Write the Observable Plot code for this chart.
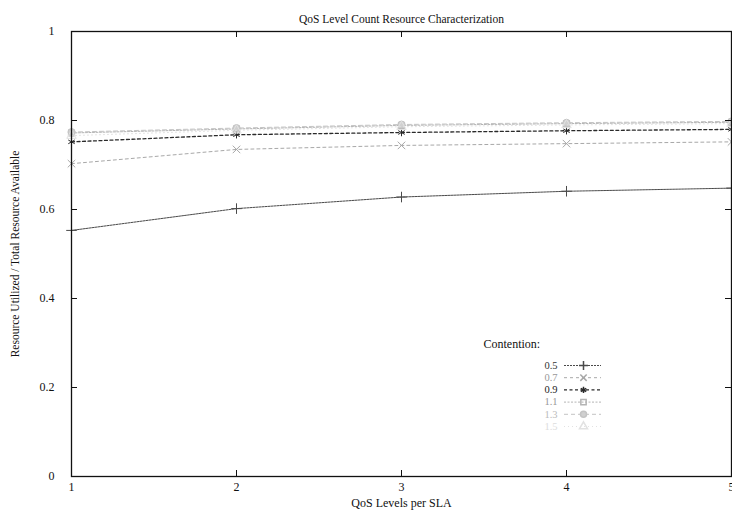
<!DOCTYPE html>
<html>
<head>
<meta charset="utf-8">
<script src="https://cdn.jsdelivr.net/npm/d3@7"></script>
<script src="https://cdn.jsdelivr.net/npm/@observablehq/plot@0.6"></script>
<style>
  html, body { margin: 0; padding: 0; background: #fff; }
  #chart { width: 732px; height: 520px; }
</style>
</head>
<body>
<div id="chart"></div>
<script>
// ---- data ----
const levels = [1, 2, 3, 4, 5];
const xTicks = [1, 2, 3, 4, 5];
const yTicks = [0, 0.2, 0.4, 0.6, 0.8, 1];
const contention = ["0.5", "0.7", "0.9", "1.1", "1.3", "1.5"];
const c05 = [0.553, 0.602, 0.628, 0.641, 0.648];
const c07 = [0.703, 0.735, 0.744, 0.748, 0.752];
const c09 = [0.752, 0.768, 0.773, 0.777, 0.780];
const c11 = [0.772, 0.781, 0.789, 0.793, 0.796];
const c13 = [0.774, 0.783, 0.791, 0.795, 0.798];
const c15 = [0.766, 0.778, 0.786, 0.790, 0.793];
const seriesValues = [c05, c07, c09, c11, c13, c15];

const title = "QoS Level Count Resource Characterization";
const xLabel = "QoS Levels per SLA";
const yLabel = "Resource Utilized / Total Resource Available";
const legendTitle = "Contention:";

// ---- styles ----
const styles = [
  {stroke: "#4a4a4a", dash: "2,1", symbol: "plus", fill: "none", width: 1, text: "#333"},
  {stroke: "#a8a8a8", dash: "3,3", symbol: "times", fill: "none", width: 1, text: "#999"},
  {stroke: "#2a2a2a", dash: "3,2.5", symbol: "asterisk", fill: "none", width: 1.3, text: "#222"},
  {stroke: "#b4b4b4", dash: "2,1.5", symbol: "square", fill: "none", width: 1, text: "#999"},
  {stroke: "#c4c4c4", dash: "4,3", symbol: "circle", fill: "#d0d0d0", width: 1, text: "#bbb"},
  {stroke: "#e2e2e2", dash: "1,3", symbol: "triangle", fill: "none", width: 1, text: "#ddd"}
];

const W = 732, H = 520, mL = 71, mR = 1, mT = 31, mB = 44;
const pxX = (W - mL - mR) / 4;   // px per x unit
const pxY = (H - mT - mB) / 1;   // px per y unit

const marks = [];
// series
contention.forEach((c, i) => {
  const data = levels.map((l, j) => ({x: l, y: seriesValues[i][j]}));
  const s = styles[i];
  marks.push(Plot.line(data, {x: "x", y: "y", stroke: s.stroke, strokeWidth: s.width, strokeDasharray: s.dash}));
  marks.push(Plot.dot(data, {x: "x", y: "y", symbol: () => s.symbol, r: 3.5, stroke: s.stroke, fill: s.fill, strokeWidth: 1}));
});

// legend (inside plot, right-lower area)
const legX = 1 + (557 - mL) / pxX;
const legX1 = 1 + (564 - mL) / pxX;
const legX2 = 1 + (601 - mL) / pxX;
const legXm = 1 + (583 - mL) / pxX;
const legY0 = (H - mB - 365) / pxY;
const legStep = 12.2 / pxY;
marks.push(Plot.text([legendTitle], {x: 1 + (483 - mL) / pxX, y: (H - mB - 344) / pxY, text: d => d, textAnchor: "start", fontSize: 12, fill: "#111"}));
contention.forEach((c, i) => {
  const s = styles[i];
  const y = legY0 - i * legStep;
  marks.push(Plot.text([c], {x: legX, y: y, text: d => d, textAnchor: "end", fontSize: 10.5, fill: s.text}));
  marks.push(Plot.ruleY([y], {x1: legX1, x2: legX2, stroke: s.stroke, strokeWidth: s.width, strokeDasharray: s.dash}));
  marks.push(Plot.dot([c], {x: legXm, y: y, symbol: () => s.symbol, r: 3, stroke: s.stroke, fill: s.fill}));
});

// inward ticks (gnuplot style) on all four sides
const tx = 6 / pxY, ty = 6 / pxX;
marks.push(Plot.ruleX(xTicks.slice(1, -1), {x: d => d, y1: 0, y2: tx, stroke: "#111"}));
marks.push(Plot.ruleX(xTicks.slice(1, -1), {x: d => d, y1: 1, y2: 1 - tx, stroke: "#111"}));
marks.push(Plot.ruleY(yTicks.slice(1, -1), {y: d => d, x1: 1, x2: 1 + ty, stroke: "#111"}));
marks.push(Plot.ruleY(yTicks.slice(1, -1), {y: d => d, x1: 5, x2: 5 - ty, stroke: "#111"}));

marks.push(Plot.frame({stroke: "#111", strokeWidth: 1.3}));

// titles
marks.push(Plot.text([title], {frameAnchor: "top", dy: -17, text: d => d, fontSize: 11.5, fill: "#111"}));
marks.push(Plot.text([xLabel], {frameAnchor: "bottom", dy: 30, text: d => d, fontSize: 12, fill: "#111"}));
marks.push(Plot.text([yLabel], {frameAnchor: "left", dx: -56, dy: 0, rotate: -90, textAnchor: "middle", text: d => d, fontSize: 11.5, fill: "#111"}));

const chart = Plot.plot({
  width: W, height: H,
  marginLeft: mL, marginRight: mR, marginTop: mT, marginBottom: mB,
  style: {fontFamily: "'Liberation Serif', 'DejaVu Serif', serif", fontSize: "12px", color: "#111", background: "#fff"},
  x: {domain: [1, 5], ticks: xTicks, tickSize: 0, tickPadding: 6, tickFormat: d => String(d), label: null},
  y: {domain: [0, 1], ticks: yTicks, tickSize: 0, tickPadding: 17, tickFormat: d => String(d), label: null},
  marks
});
document.getElementById("chart").appendChild(chart);
</script>
</body>
</html>
